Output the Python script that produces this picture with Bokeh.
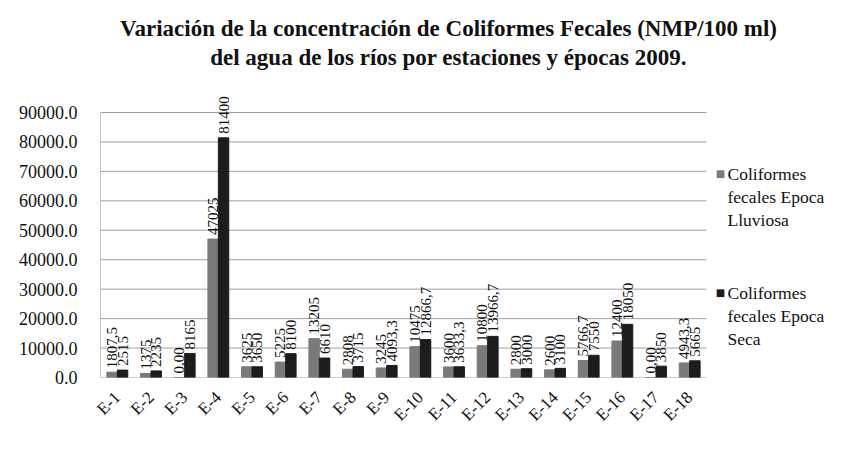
import math
from bokeh.plotting import figure
from bokeh.models import ColumnDataSource, Label, NumeralTickFormatter, FixedTicker
from bokeh.core.properties import value
from bokeh.embed import file_html
from bokeh.resources import INLINE

stations = ["E-1", "E-2", "E-3", "E-4", "E-5", "E-6", "E-7", "E-8", "E-9",
            "E-10", "E-11", "E-12", "E-13", "E-14", "E-15", "E-16", "E-17", "E-18"]
lluviosa = [1807.5, 1375, 0.0, 47025, 3625, 5225, 13205, 2808, 3245,
            10475, 3600, 10800, 2800, 2600, 5766.7, 12400, 0.0, 4943.3]
seca = [2515, 2235, 8165, 81400, 3650, 8100, 6610, 3715, 4093.3,
        12866.7, 3633.3, 13966.7, 3000, 3100, 7550, 18050, 3850, 5665]
y_ticks = [0, 10000, 20000, 30000, 40000, 50000, 60000, 70000, 80000, 90000]
title_lines = ["Variación de la concentración de Coliformes Fecales (NMP/100 ml)",
               "del agua de los ríos por estaciones y épocas 2009."]
legend_lluviosa = ["Coliformes", "fecales  Epoca", "Lluviosa"]
legend_seca = ["Coliformes", "fecales Epoca", "Seca"]


def fmt(v):
    if v == 0:
        return "0,00"
    if float(v).is_integer():
        return str(int(v))
    return ("%.1f" % v).replace(".", ",")


n = len(stations)
centers = [i + 0.5 for i in range(n)]
OFF = 0.155
BW = 0.31

src = ColumnDataSource(dict(
    xl=[c - OFF for c in centers],
    xs=[c + OFF for c in centers],
    lluviosa=lluviosa,
    seca=seca,
    lab_ll=[fmt(v) for v in lluviosa],
    lab_se=[fmt(v) for v in seca],
))

SERIF = "Liberation Serif"
GRAY = "#7a7a7a"
BLACK = "#1c1c1c"

W, H = 832, 435
LEFT, BOTTOM = 100, 58
FRAME_W, FRAME_H = W - LEFT, H - BOTTOM
PLOT_W, PLOT_H = 606, 265          # pixel size of the chart's plotting area
x_max = n * FRAME_W / PLOT_W
y_max = y_ticks[-1] * FRAME_H / PLOT_H

p = figure(width=W, height=H, x_range=(0, x_max), y_range=(0, y_max),
           output_backend="svg", toolbar_location=None,
           min_border_left=LEFT, min_border_right=0, min_border_top=0, min_border_bottom=BOTTOM)
p.outline_line_color = None
p.xgrid.grid_line_color = None
p.ygrid.grid_line_color = None

# gridlines and left axis line, limited to the plotting area
p.segment(x0=[0] * len(y_ticks), x1=[n] * len(y_ticks), y0=y_ticks, y1=y_ticks,
          line_color="#a0a0a0", line_width=1)
p.segment(x0=[0], x1=[0], y0=[0], y1=[y_ticks[-1]], line_color="#888888", line_width=1)

p.vbar(x="xl", top="lluviosa", width=BW, source=src, fill_color=GRAY, line_color=GRAY)
p.vbar(x="xs", top="seca", width=BW, source=src, fill_color=BLACK, line_color=BLACK)

for xcol, ycol, lcol in [("xl", "lluviosa", "lab_ll"), ("xs", "seca", "lab_se")]:
    p.text(x=xcol, y=ycol, text=lcol, source=src,
           angle=math.pi / 2, text_align="left", text_baseline="middle", y_offset=-4,
           text_font=value(SERIF), text_font_size="15px", text_color="#111111")

p.yaxis.ticker = FixedTicker(ticks=y_ticks)
p.yaxis.formatter = NumeralTickFormatter(format="0.0")
p.yaxis.major_label_text_font = SERIF
p.yaxis.major_label_text_font_size = "18px"
p.yaxis.major_label_text_color = "#111111"
p.yaxis.major_tick_line_color = None
p.yaxis.minor_tick_line_color = None
p.yaxis.axis_line_color = None
p.yaxis.major_label_standoff = 17

p.xaxis.ticker = FixedTicker(ticks=centers)
p.xaxis.major_label_overrides = {c: s for c, s in zip(centers, stations)}
p.xaxis.major_label_orientation = math.pi / 4
p.xaxis.major_label_text_font = SERIF
p.xaxis.major_label_text_font_size = "17px"
p.xaxis.major_label_text_color = "#111111"
p.xaxis.major_tick_line_color = None
p.xaxis.minor_tick_line_color = None
p.xaxis.axis_line_color = None
p.xaxis.major_label_standoff = 11

# title (screen units relative to the frame's bottom-left)
for t, y in zip(title_lines, [349, 320]):
    p.add_layout(Label(x=348, y=y, x_units="screen", y_units="screen", text=t,
                       text_align="center", text_baseline="middle",
                       text_font=SERIF, text_font_style="bold", text_font_size="23px",
                       text_color="#111111"))

# legend
for col, lines, ys in [(GRAY, legend_lluviosa, [204, 181, 158]),
                       (BLACK, legend_seca, [85, 62, 39])]:
    p.add_layout(Label(x=620, y=ys[0], x_units="screen", y_units="screen", text="■",
                       text_align="center", text_baseline="middle",
                       text_font="DejaVu Sans", text_font_size="10px", text_color=col))
    for t, y in zip(lines, ys):
        p.add_layout(Label(x=627, y=y, x_units="screen", y_units="screen", text=t,
                           text_align="left", text_baseline="middle",
                           text_font=SERIF, text_font_size="17.5px", text_color="#111111"))

open("out.html", "w").write(file_html(p, INLINE))
